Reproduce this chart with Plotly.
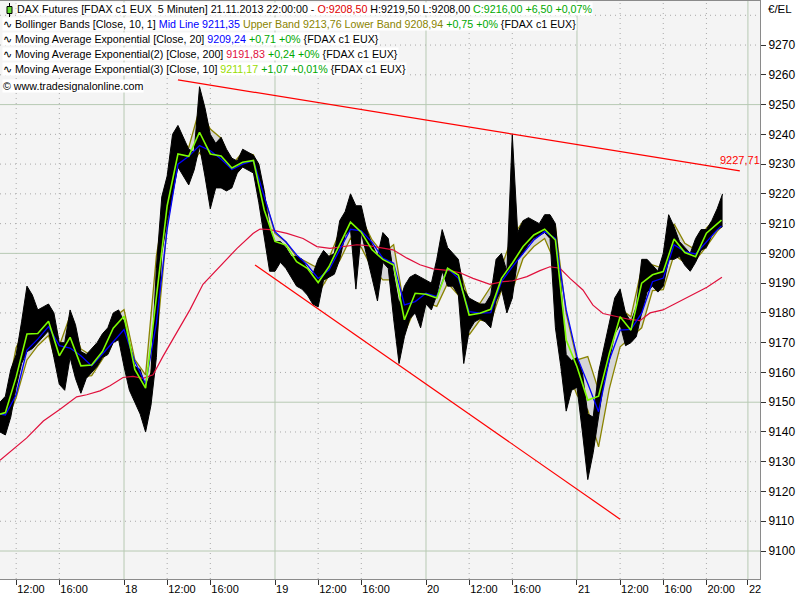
import plotly.graph_objects as go

# ---------------- data (x = trading hours since Fri 15.11.2013 08:00, 14 h per session) ----------------
bar_t = [2.5, 3.0, 3.5, 4.0, 4.5, 5.0, 5.5, 6.0, 6.5, 7.0, 7.5, 8.0, 8.5, 9.0, 9.5, 10.0, 10.5, 11.0, 11.5, 12.0,
         12.5, 13.0, 13.5, 14.0, 14.5, 15.0, 15.5, 16.0, 16.5, 17.0, 17.5, 18.0, 18.5, 19.0, 19.5, 20.0, 20.5, 21.0,
         21.5, 22.0, 22.5, 23.0, 23.5, 24.0, 24.5, 25.0, 25.5, 26.0, 26.5, 27.0, 27.5, 28.0, 28.5, 29.0, 29.5, 30.0,
         30.5, 31.0, 31.5, 32.0, 32.5, 33.0, 33.5, 34.0, 34.5, 35.0, 35.5, 36.0, 36.5, 37.0, 37.5, 38.0, 38.5, 39.0,
         39.5, 40.0, 40.5, 41.0, 41.5, 42.0, 42.5, 43.0, 43.5, 44.0, 44.5, 45.0, 45.5, 46.0, 46.5, 47.0, 47.5, 48.0,
         48.5, 49.0, 49.5, 50.0, 50.5, 51.0, 51.5, 52.0, 52.5, 53.0, 53.5, 54.0, 54.5, 55.0, 55.5, 56.0, 56.5, 57.0,
         57.5, 58.0, 58.5, 59.0, 59.5, 60.0, 60.5, 61.0, 61.5, 62.0, 62.5, 63.0, 63.5, 64.0, 64.5, 65.0, 65.5, 66.0,
         66.5, 67.0, 67.5, 68.0, 68.5, 69.0, 69.5]
bar_high = [9150, 9152, 9161, 9166, 9177, 9189, 9186, 9181, 9182, 9183, 9180, 9170, 9170, 9181, 9176, 9167, 9166,
            9168, 9170, 9173, 9175, 9180, 9181,
            9177, 9170, 9162, 9161, 9155, 9160, 9195, 9219, 9226, 9240, 9243, 9239, 9235, 9234, 9256, 9249, 9240,
            9237, 9239, 9235, 9232, 9231, 9235, 9234, 9233, 9230, 9221, 9208,
            9204, 9204, 9202, 9199, 9199, 9198, 9195, 9193, 9198, 9201, 9199, 9200, 9211, 9214, 9220, 9216, 9216,
            9208, 9203, 9199, 9207, 9205, 9193, 9183, 9189, 9192, 9193, 9192,
            9191, 9190, 9198, 9208, 9202, 9200, 9198, 9188, 9185, 9184, 9183, 9183, 9186, 9198, 9200, 9194, 9240,
            9207, 9211, 9212, 9211, 9210, 9213, 9213, 9210, 9190, 9166, 9164,
            9165, 9160, 9146, 9145, 9160, 9168, 9176, 9185, 9188, 9180, 9177, 9182, 9198, 9198, 9196, 9194, 9200,
            9213, 9209, 9204, 9202, 9200, 9205, 9208, 9208, 9211, 9215, 9220]
bar_low = [9140, 9139, 9145, 9155, 9163, 9167, 9168, 9170, 9172, 9174, 9165, 9156, 9154, 9165, 9158, 9153, 9158,
           9160, 9162, 9165, 9166, 9170, 9171,
           9162, 9154, 9150, 9146, 9140, 9149, 9165, 9200, 9211, 9220, 9229, 9226, 9223, 9228, 9236, 9226, 9215,
           9222, 9222, 9221, 9222, 9227, 9229, 9228, 9227, 9217, 9205, 9194,
           9194, 9197, 9195, 9192, 9189, 9188, 9186, 9183, 9182, 9191, 9192, 9193, 9198, 9206, 9208, 9188, 9207,
           9199, 9192, 9184, 9197, 9195, 9178, 9163, 9172, 9178, 9180, 9175,
           9183, 9181, 9186, 9194, 9189, 9189, 9186, 9163, 9174, 9177, 9178, 9177, 9175, 9184, 9188, 9180, 9185,
           9198, 9200, 9203, 9205, 9206, 9207, 9205, 9175, 9162, 9147, 9154,
           9155, 9140, 9124, 9133, 9145, 9157, 9164, 9173, 9176, 9169, 9170, 9172, 9180, 9187, 9189, 9187, 9189,
           9198, 9198, 9199, 9196, 9194, 9197, 9201, 9202, 9206, 9208, 9209]

line_t = [2.5, 3, 4, 5, 6, 7, 8, 9, 10, 11, 12, 13, 14, 15, 16, 17, 18, 19, 20, 21, 22, 23, 24, 25, 26, 27, 28,
          29, 30, 31, 32, 33, 34, 35, 36, 37, 38, 39, 40, 41, 42, 43, 44, 45, 46, 47, 48, 49, 50, 51, 52, 53, 54,
          55, 56, 57, 58, 59, 60, 61, 62, 63, 64, 65, 66, 67, 68, 69, 69.4]
ema10 = [9146, 9146.5, 9158.5, 9172.9, 9173.1, 9177.2, 9165.6, 9171.8, 9162.2, 9162.5, 9167, 9174.9, 9178.9,
         9161, 9154.7, 9185.6, 9216, 9233.4, 9232.6, 9240.7, 9233.4, 9232.7, 9228.7, 9230.6, 9231.2, 9214.6,
         9204, 9202.8, 9197.2, 9195, 9190.2, 9195.5, 9203.2, 9210.5, 9207.1, 9201.2, 9198, 9196.1, 9177.7,
         9186.6, 9186.3, 9185, 9195, 9192.7, 9179.3, 9179.9, 9181.2, 9191.6, 9196.7, 9202.3, 9206.2, 9208.1,
         9204.5, 9170.9, 9161.9, 9150.7, 9152, 9166.4, 9178.7, 9174.2, 9190, 9192.8, 9193.9, 9204.8, 9200.3,
         9198.9, 9206.8, 9209.9, 9211.2]
ema20 = [9146, 9145.7, 9152.5, 9167.5, 9171.2, 9175.4, 9169, 9168.2, 9165.6, 9162.2, 9166.2, 9170.4, 9174.4,
         9163.7, 9156.2, 9176.6, 9208.1, 9230, 9232.6, 9236.2, 9234.5, 9231.7, 9228.2, 9230, 9231.2, 9219.1,
         9207.3, 9203.9, 9199.5, 9196.1, 9191.6, 9194.4, 9201, 9208.1, 9207.6, 9203.7, 9198.4, 9196.7, 9182.7,
         9183.8, 9186.6, 9185.5, 9195, 9191.6, 9180.4, 9179.9, 9180.1, 9190.5, 9195.5, 9200, 9204.5, 9207.3,
         9205, 9181, 9165.3, 9156.3, 9146.8, 9164.2, 9174.2, 9174.5, 9179.9, 9190.5, 9191.7, 9202.9, 9200.6,
         9199.8, 9204, 9207.9, 9209.2]
bb_upper = [9150, 9149.6, 9168.4, 9175.7, 9180.6, 9180, 9169, 9179.1, 9167.9, 9165.6, 9170.1, 9178.3, 9181.1,
            9164.3, 9159.2, 9199.1, 9221, 9238.4, 9235.6, 9248.5, 9241.8, 9238.7, 9229.7, 9234, 9233.1, 9219.1,
            9206.7, 9203.9, 9198.9, 9196.9, 9195, 9198.3, 9207.3, 9214.4, 9211.8, 9204.5, 9200, 9202.9, 9181.6,
            9190, 9188.6, 9188.9, 9200.6, 9196.1, 9183.8, 9183.2, 9188.8, 9195.5, 9205.6, 9210.7, 9207.9, 9210.7,
            9209, 9179.8, 9164.2, 9165.3, 9154, 9173.1, 9181.5, 9178.7, 9195, 9196.1, 9195, 9209.9, 9203.4,
            9201.2, 9208.5, 9212.2, 9213.8]
bb_lower = [9145, 9142.4, 9151.6, 9164.2, 9169, 9172.4, 9159.4, 9167.3, 9158.5, 9158.9, 9164.5, 9170.4, 9174.2,
            9158.7, 9150.2, 9169.9, 9209.2, 9230.6, 9228.3, 9233.9, 9229.4, 9228, 9224.9, 9229.7, 9230.3, 9209,
            9198.9, 9197.2, 9193.9, 9192.2, 9186.6, 9192.5, 9197.6, 9205.1, 9202, 9195, 9191.1, 9191.1, 9173.2,
            9181.6, 9183.5, 9182.2, 9190, 9186, 9172.6, 9177.6, 9177, 9187.7, 9187.7, 9198.3, 9202.3, 9205,
            9196.6, 9161.9, 9152.4, 9147.4, 9135, 9154.6, 9168.6, 9171.8, 9175, 9187.5, 9187.8, 9199.5, 9196.9,
            9197.8, 9202.3, 9207.4, 9208.9]

ema200_t = [2.5, 4.98, 6.52, 8.07, 9.61, 10.54, 11.77, 12.7, 13.91, 14.83, 15.76, 16.69, 17.61, 18.91, 20.12,
            21.32, 22.9, 24.48, 25.96, 26.61, 27.54, 29.11, 30.6, 31.89, 33.1, 34.3, 35.6, 36.81, 38.01, 38.94,
            40.24, 41.44, 42.65, 44.22, 45.15, 46.36, 47.93, 49.14, 50.06, 51.36, 52.56, 53.49, 54.42, 55.35,
            56.55, 57.48, 58.41, 59.71, 60.91, 61.84, 62.77, 63.97, 64.9, 66.48, 68.05, 69.44]
ema200 = [9130.5, 9138, 9143.7, 9147.6, 9151.8, 9152.5, 9153.8, 9155.5, 9158.3, 9158.7, 9158, 9159.2, 9165.4,
          9173.3, 9181.1, 9189.6, 9195.5, 9201.7, 9206.7, 9208.2, 9208, 9206.7, 9205, 9202.3, 9201.7, 9202.3,
          9202.9, 9202.5, 9201.7, 9201.2, 9198.4, 9196.2, 9194.8, 9194.2, 9193.5, 9191.6, 9189.6, 9190.5,
          9190.8, 9192.2, 9194.2, 9195.5, 9195, 9191.6, 9187.7, 9182.6, 9179.8, 9178.7, 9177.8, 9177.4, 9180,
          9181, 9182.7, 9185.5, 9188.6, 9192]

trend_hi_t = [19.0, 71.1]
trend_hi_p = [9258.3, 9227.71]
trend_lo_t = [26.15, 60.0]
trend_lo_p = [9196.1, 9110.7]

xtick_vals = [4, 8, 14, 18, 22, 28, 32, 36, 42, 46, 50, 56, 60, 64, 68, 71.85]
xtick_text = ["12:00", "16:00", "18", "12:00", "16:00", "19", "12:00", "16:00", "20", "12:00", "16:00", "21",
              "12:00", "16:00", "20:00", "22"]
ytick_vals = [9100, 9110, 9120, 9130, 9140, 9150, 9160, 9170, 9180, 9190, 9200, 9210, 9220, 9230, 9240, 9250,
              9260, 9270]
hgrid_vals = ytick_vals + [9280]

# ---------------- figure ----------------
OLIVE = "#8a8400"
fig = go.Figure()
fig.add_trace(go.Scatter(x=line_t, y=bb_upper, mode="lines", line=dict(color=OLIVE, width=1.3), hoverinfo="skip"))
fig.add_trace(go.Scatter(x=line_t, y=bb_lower, mode="lines", line=dict(color=OLIVE, width=1.3),
                         fill="tonexty", fillcolor="#d6d6d6", hoverinfo="skip"))
# price range envelope (high / low of the 5-minute bars)
fig.add_trace(go.Scatter(x=bar_t, y=bar_high, mode="lines", line=dict(color="black", width=1)))
fig.add_trace(go.Scatter(x=bar_t, y=bar_low, mode="lines", line=dict(color="black", width=1),
                         fill="tonexty", fillcolor="black"))
fig.add_trace(go.Scatter(x=ema200_t, y=ema200, mode="lines", line=dict(color="#e0103c", width=1.2)))
fig.add_trace(go.Scatter(x=line_t, y=ema20, mode="lines", line=dict(color="#0000ff", width=1.3)))
fig.add_trace(go.Scatter(x=line_t, y=ema10, mode="lines", line=dict(color="#7cfc00", width=1.6)))
fig.add_trace(go.Scatter(x=trend_hi_t, y=trend_hi_p, mode="lines", line=dict(color="#ff0000", width=1.2)))
fig.add_trace(go.Scatter(x=trend_lo_t, y=trend_lo_p, mode="lines", line=dict(color="#ff0000", width=1.2)))

shapes = []
for v, txt in zip(xtick_vals, xtick_text):
    solid = ":" not in txt
    shapes.append(dict(type="line", xref="x", yref="y domain", x0=v, x1=v, y0=0, y1=1, layer="below",
                       line=dict(color="#b7c9b3" if solid else "#a8a8a8", width=1,
                                 dash="solid" if solid else "1px,4px")))
for v in hgrid_vals:
    solid = v % 50 == 0
    shapes.append(dict(type="line", xref="x domain", yref="y", x0=0, x1=1, y0=v, y1=v, layer="below",
                       line=dict(color="#b7c9b3" if solid else "#a8a8a8", width=1,
                                 dash="solid" if solid else "1px,4px")))

PW, PH = 760.0, 578.0  # plot area size in px


def px(xp):
    return xp / PW


def py(yp):
    return 1 - (yp - 1) / PH


# chart-type icon for the first info line
shapes.append(dict(type="line", xref="paper", yref="paper", x0=px(9.5), x1=px(9.5), y0=py(3), y1=py(17),
                   line=dict(color="black", width=1), layer="above"))
shapes.append(dict(type="rect", xref="paper", yref="paper", x0=px(7), x1=px(12), y0=py(6.5), y1=py(13.5),
                   line=dict(color="black", width=1), fillcolor="#66dd33", layer="above"))

GREEN = "#00a800"
FONT = "Liberation Sans, Arial, sans-serif"
NB = "\u00a0"
info_lines = [
    (16, 1, f"DAX Futures [FDAX c1 EUX{NB} 5 Minuten] 21.11.2013 22:00:00 - "
            f"<span style='color:#e00000'>O:9208,50</span> H:9219,50 L:9208,00 "
            f"<span style='color:{GREEN}'>C:9216,00 +6,50 +0,07%</span>"),
    (2, 16, f"∿ Bollinger Bands [Close, 10, 1] <span style='color:#0000ff'>Mid Line 9211,35</span> "
            f"<span style='color:{OLIVE}'>Upper Band 9213,76 Lower Band 9208,94</span> "
            f"<span style='color:{GREEN}'>+0,75 +0%</span> {{FDAX c1 EUX}}"),
    (2, 31, f"∿ Moving Average Exponential [Close, 20] <span style='color:#0000ff'>9209,24</span> "
            f"<span style='color:{GREEN}'>+0,71 +0%</span> {{FDAX c1 EUX}}"),
    (2, 46, f"∿ Moving Average Exponential(2) [Close, 200] <span style='color:#e0103c'>9191,83</span> "
            f"<span style='color:{GREEN}'>+0,24 +0%</span> {{FDAX c1 EUX}}"),
    (2, 61, f"∿ Moving Average Exponential(3) [Close, 10] <span style='color:#99dd00'>9211,17</span> "
            f"<span style='color:{GREEN}'>+1,07 +0,01%</span> {{FDAX c1 EUX}}"),
    (2, 78, "© www.tradesignalonline.com"),
]
annotations = []
for xs, ys, txt in info_lines:
    annotations.append(dict(xref="paper", yref="paper", x=0, y=1, xanchor="left", yanchor="top",
                            xshift=xs, yshift=-ys, text=txt, showarrow=False, align="left",
                            bgcolor="white", borderpad=0, font=dict(family=FONT, size=10.7, color="black")))
annotations.append(dict(xref="x", yref="y", x=trend_hi_t[-1], y=trend_hi_p[-1], xanchor="center",
                        yanchor="bottom", yshift=3, showarrow=False,
                        text=f"{trend_hi_p[-1]:.2f}".replace(".", ","),
                        font=dict(family=FONT, size=11, color="#ff0000")))
annotations.append(dict(xref="paper", yref="paper", x=1, y=1, xanchor="left", yanchor="top", xshift=6,
                        yshift=0, showarrow=False, text="€/EL", font=dict(family=FONT, size=11.5, color="black")))

fig.update_layout(
    width=800, height=600,
    margin=dict(l=0, r=40, t=1, b=21, pad=0),
    paper_bgcolor="white", plot_bgcolor="#f4f4f4",
    showlegend=False,
    shapes=shapes, annotations=annotations,
    xaxis=dict(range=[2.5, 72.97], tickmode="array", tickvals=xtick_vals, ticktext=xtick_text,
               ticks="outside", ticklen=5, tickcolor="#333", showgrid=False, zeroline=False,
               showline=True, linecolor="#8a8a8a", mirror=True, ticklabelposition="outside right",
               tickfont=dict(family=FONT, size=11, color="black")),
    yaxis=dict(side="right", range=[9090.6, 9284.8], tickmode="array", tickvals=ytick_vals,
               ticks="outside", ticklen=5, tickcolor="#333", showgrid=False, zeroline=False,
               showline=True, linecolor="#8a8a8a", mirror=True, tickformat="d",
               tickfont=dict(family=FONT, size=12, color="black")),
)

fig.write_html("out.html", config={"displayModeBar": False},
               post_script="document.body.style.margin='0';document.body.style.overflow='hidden';")
